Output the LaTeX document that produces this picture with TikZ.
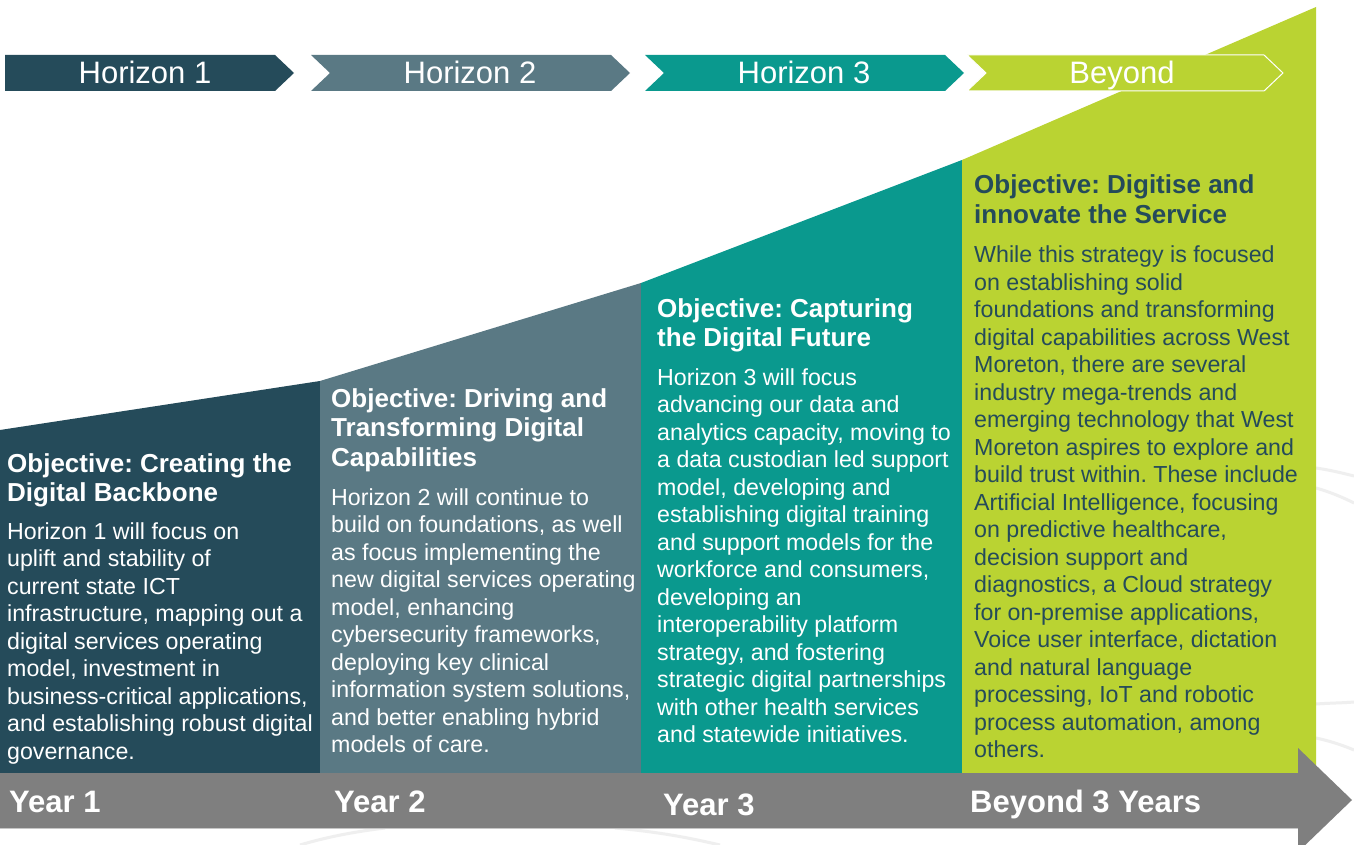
\documentclass[tikz,border=0pt]{standalone}
\usepackage{fontspec}
\setmainfont{Liberation Sans}
\frenchspacing
\definecolor{hdark}{HTML}{254B5A}
\definecolor{hslate}{HTML}{5A7984}
\definecolor{hteal}{HTML}{0A998E}
\definecolor{hlime}{HTML}{BAD332}
\definecolor{agray}{HTML}{7F7F7F}
\definecolor{faint}{HTML}{EFEFEF}
\newcommand{\mytitlefont}{\bfseries\fontsize{26}{29.5}\selectfont}
\newcommand{\mybodyfont}{\fontsize{23.2}{27.5}\selectfont}
\tikzset{
  chevlabel/.style={text=white, font=\fontsize{31}{36}\selectfont, anchor=base, inner sep=0},
  coltitle/.style={anchor=base west, inner sep=0, align=left, font=\mytitlefont},
  colbody/.style={anchor=base west, inner sep=0, align=left, font=\mybodyfont},
  yearlabel/.style={text=white, anchor=base west, inner sep=0, font=\bfseries\fontsize{31}{36}\selectfont},
  faintarc/.style={draw=faint, line width=3pt},
}
\begin{document}
\begin{tikzpicture}[x=1pt,y=-1pt]
\useasboundingbox (0,0) rectangle (1354,845);
\fill[white] (0,0) rectangle (1354,845);
\clip (0,0) rectangle (1354,845);
% faint background arcs
\draw[faintarc] (1316,468) .. controls (1330,470) and (1342,473) .. (1354,476);
\draw[faintarc] (1316,488) .. controls (1330,492) and (1342,497) .. (1354,503);
\draw[faintarc] (1316,704) .. controls (1330,703) and (1342,703) .. (1354,702);
\draw[faintarc] (1316,738) .. controls (1330,741) and (1342,745) .. (1354,750);
\draw[faintarc] (300,845) .. controls (330,836) and (360,831) .. (385,828);
\draw[faintarc] (615,828) .. controls (660,832) and (690,838) .. (720,845);
% columns
\fill[hdark]  (0,775) -- (0,430) -- (320,381) -- (320,775) -- cycle;
\fill[hslate] (320,775) -- (320,381) -- (641,283) -- (641,775) -- cycle;
\fill[hteal]  (641,775) -- (641,283) -- (962,160) -- (962,775) -- cycle;
\fill[hlime]  (962,775) -- (962,160) -- (1316,7) -- (1316,775) -- cycle;
% chevrons
\fill[hdark] (5,55) -- (275,55) -- (294,73) -- (275,91) -- (5,91) -- cycle;
\fill[hslate] (311,55) -- (611,55) -- (630,73) -- (611,91) -- (311,91) -- (330,73) -- cycle;
\fill[hteal] (645,55) -- (945,55) -- (964,73) -- (945,91) -- (645,91) -- (664,73) -- cycle;
\filldraw[fill=hlime, draw=white, line width=1pt] (967,55) -- (1264,55) -- (1283,73) -- (1264,91) -- (967,91) -- (986,73) -- cycle;
\node[chevlabel] (h1) at (145,84) {Horizon 1};
\node[chevlabel] (h2) at (470,84) {Horizon 2};
\node[chevlabel] (h3) at (804,84) {Horizon 3};
\node[chevlabel] (hb) at (1122,84) {Beyond};
% column texts (anchors at the baseline of the last line)
\node[coltitle, text=white] (t1) at (7,501.5) {Objective: Creating the\\Digital Backbone};
\node[colbody, text=white] (b1) at (7,759) {Horizon 1 will focus on\\uplift and stability of\\current state ICT\\infrastructure, mapping out a\\digital services operating\\model, investment in\\business-critical applications,\\and establishing robust digital\\governance.};
\node[coltitle, text=white] (t2) at (331,466) {Objective: Driving and\\Transforming Digital\\Capabilities};
\node[colbody, text=white] (b2) at (331,752.5) {Horizon 2 will continue to\\build on foundations, as well\\as focus implementing the\\new digital services operating\\model, enhancing\\cybersecurity frameworks,\\deploying key clinical\\information system solutions,\\and better enabling hybrid\\models of care.};
\node[coltitle, text=white] (t3) at (657,346.5) {Objective: Capturing\\the Digital Future};
\node[colbody, text=white] (b3) at (657,742.5) {Horizon 3 will focus\\advancing our data and\\analytics capacity, moving to\\a data custodian led support\\model, developing and\\establishing digital training\\and support models for the\\workforce and consumers,\\developing an\\interoperability platform\\strategy, and fostering\\strategic digital partnerships\\with other health services\\and statewide initiatives.};
\node[coltitle, text=hdark] (t4) at (974,223.5) {Objective: Digitise and\\innovate the Service};
\node[colbody, text=hdark] (b4) at (974,757.5) {While this strategy is focused\\on establishing solid\\foundations and transforming\\digital capabilities across West\\Moreton, there are several\\industry mega-trends and\\emerging technology that West\\Moreton aspires to explore and\\build trust within. These include\\Artificial Intelligence, focusing\\on predictive healthcare,\\decision support and\\diagnostics, a Cloud strategy\\for on-premise applications,\\Voice user interface, dictation\\and natural language\\processing, IoT and robotic\\process automation, among\\others.};
% timeline arrow
\draw[black!18, line width=1pt] (0,828.5) -- (1300,828.5);
\fill[agray] (0,773) -- (1298,773) -- (1298,748) -- (1352,800) -- (1298,852) -- (1298,828) -- (0,828) -- cycle;
\node[yearlabel] (y1) at (9,812) {Year 1};
\node[yearlabel] (y2) at (334,812) {Year 2};
\node[yearlabel] (y3) at (663,815) {Year 3};
\node[yearlabel] (y4) at (970,812) {Beyond 3 Years};
\end{tikzpicture}
\end{document}
